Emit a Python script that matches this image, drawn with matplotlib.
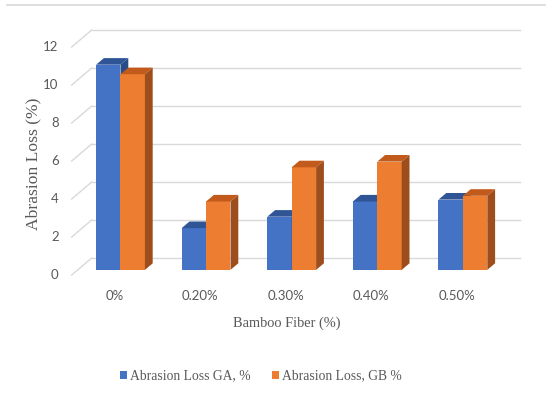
import matplotlib
matplotlib.use("Agg")
import matplotlib.pyplot as plt
from matplotlib.lines import Line2D
from matplotlib.patches import Patch

categories = ["0%", "0.20%", "0.30%", "0.40%", "0.50%"]
ga_values = [10.8, 2.2, 2.8, 3.6, 3.7]
gb_values = [10.3, 3.6, 5.4, 5.7, 3.9]
y_ticks = [0, 2, 4, 6, 8, 10, 12]
series_names = ["Abrasion Loss GA, %", "Abrasion Loss, GB %"]

W, H = 546, 397
fig = plt.figure(figsize=(W / 100, H / 100), dpi=100)
ax = fig.add_axes([0, 0, 1, 1])
ax.set_axis_off()

# pixel mapping
X0, SX = 114.5, 85.6      # front-floor category centre, px per category
Y0, SY = 275.0, 19.0      # front-floor zero, px per unit
ax.set_xlim(-X0 / SX, (W - X0) / SX)
ax.set_ylim((Y0 - H) / SY, Y0 / SY)

def ddx(px):
    return px / SX

def ddy(px):
    return px / SY

GRID = "#D9D9D9"
TXT = "#595959"
sans = ["Lato", "DejaVu Sans"]
serif = ["Liberation Serif", "DejaVu Serif"]

# back wall depth offset
wall_dx, wall_dy = ddx(20), ddy(17)
x_left = -0.5
x_right = 4.5
for v in y_ticks:
    ax.plot([x_left, x_left + wall_dx], [v, v + wall_dy], color=GRID, lw=1.0, zorder=1)
    ax.plot([x_left + wall_dx, x_right + wall_dx], [v + wall_dy, v + wall_dy],
            color=GRID, lw=1.0, zorder=1)
    ax.text(x_left - ddx(13), v, str(v), ha="right", va="center",
            fontsize=9.5, color=TXT, family=sans)

# bars
bw = 24.4 / SX
f_dx, f_dy = ddx(6), ddy(5.1)      # front face offset (depth)
b_dx, b_dy = ddx(7.8), ddy(6.6)    # bar depth

styles = [
    ("#4472C4", "#2F5597", "#2A4C86"),
    ("#ED7D31", "#C15A1B", "#9E4E1D"),
]

xs = list(range(len(categories)))
z = 3
handles = []
for si, vals in enumerate([ga_values, gb_values]):
    front, top, side = styles[si]
    lefts = [x + f_dx - bw + si * bw for x in xs]
    for i, (l, v) in enumerate(zip(lefts, vals)):
        zz = z + i * 10 + si * 3
        ax.bar(l, v, width=bw, bottom=f_dy, align="edge", color=front,
               edgecolor="none", zorder=zz)
        t = v + f_dy
        ax.fill([l, l + bw, l + bw + b_dx, l + b_dx],
                [t, t, t + b_dy, t + b_dy], color=top, lw=0, zorder=zz + 1)
        r = l + bw
        ax.fill([r, r + b_dx, r + b_dx, r],
                [f_dy, f_dy + b_dy, t + b_dy, t], color=side, lw=0, zorder=zz + 1)
    handles.append(Patch(facecolor=front, edgecolor="none", label=series_names[si]))

# category labels
for x, c in zip(xs, categories):
    ax.text(x, (Y0 - 296.5) / SY, c, ha="center", va="center",
            fontsize=9.5, color=TXT, family=sans)

# axis titles
ax.text((287 - X0) / SX, (Y0 - 323) / SY, "Bamboo Fiber (%)", ha="center",
        va="center", fontsize=10.4, color=TXT, family=serif)
ax.text((33 - X0) / SX, (Y0 - 164) / SY, "Abrasion Loss (%)", ha="center",
        va="center", fontsize=12.6, color=TXT, family=serif, rotation=90)

leg = ax.legend(handles=handles, loc="center", bbox_to_anchor=(261 / W, 1 - 376 / H),
                ncol=2, frameon=False, handlelength=0.5, handleheight=0.5,
                handletextpad=0.2, columnspacing=1.6,
                prop={"family": serif, "size": 9.8})
for t in leg.get_texts():
    t.set_color(TXT)

# top chart border
fig.add_artist(Line2D([7 / W, 1], [1 - 5 / H, 1 - 5 / H], color=GRID, lw=1.2))

fig.savefig("out.png", dpi=100)
